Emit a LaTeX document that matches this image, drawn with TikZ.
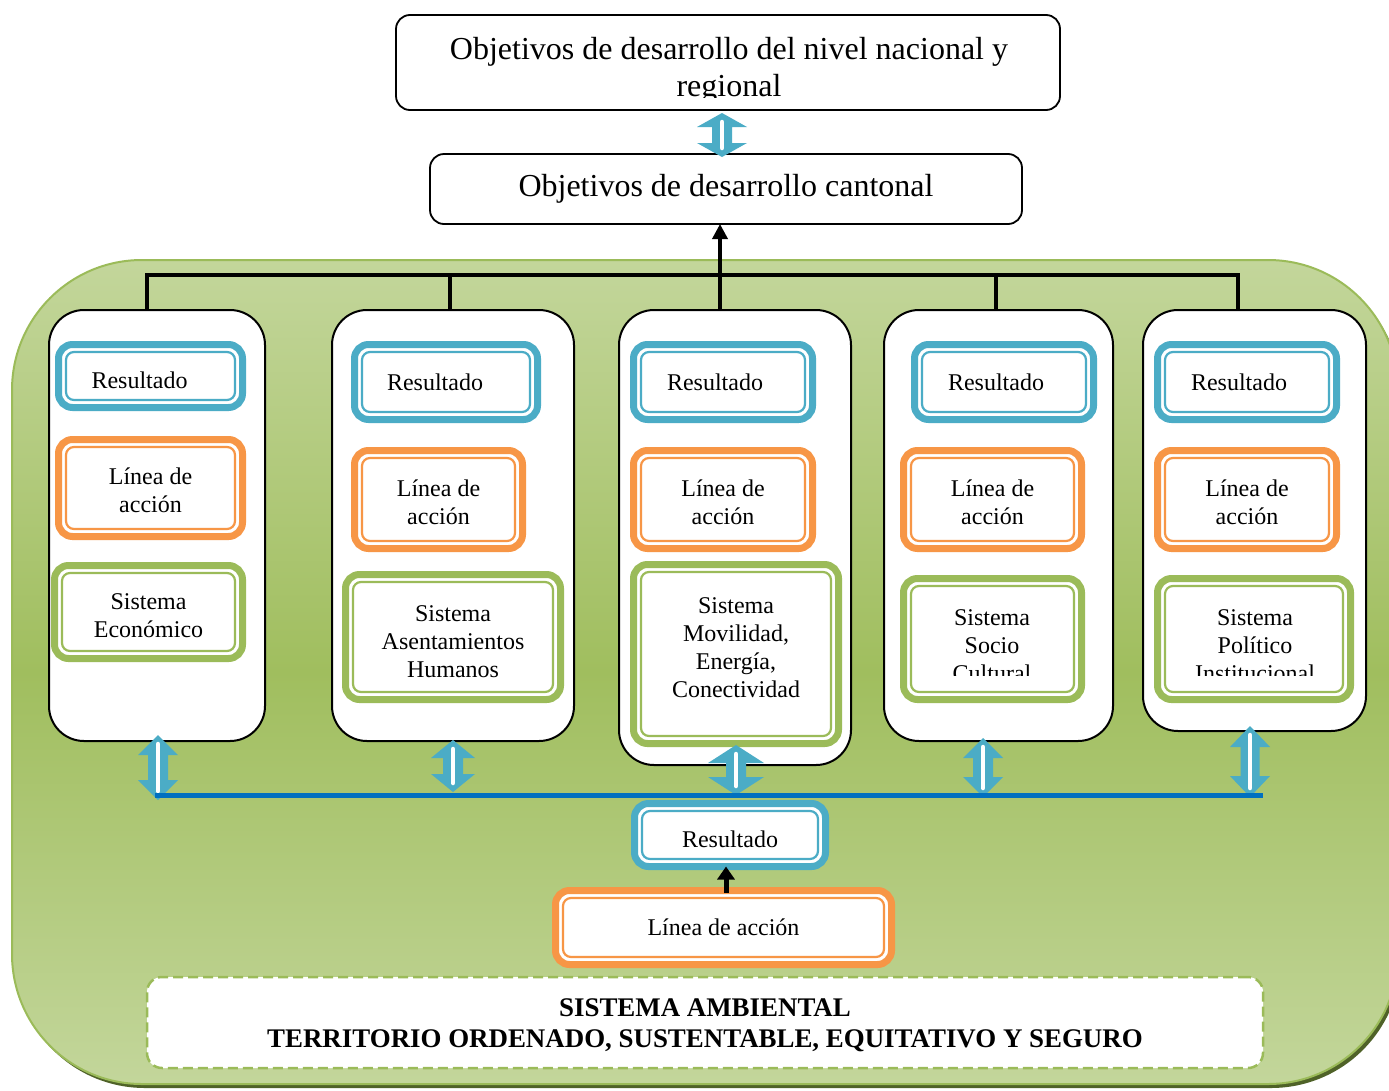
\documentclass[tikz,border=0pt]{standalone}
\usepackage{fontspec}
\setmainfont{Liberation Serif}
\usetikzlibrary{calc,arrows.meta}
\definecolor{cblue}{HTML}{4BACC6}
\definecolor{corange}{HTML}{F79646}
\definecolor{cgreen}{HTML}{9BBB59}
\definecolor{clight}{HTML}{C3D69B}
\definecolor{cmid}{HTML}{A0BE5E}
\definecolor{cdark}{HTML}{4F6228}
\definecolor{cline}{HTML}{0070C0}
\tikzset{
  panel/.style={draw=black, line width=2, fill=white, rounded corners=35, outer sep=0, inner sep=0},
  dboxs/.style={draw=#1, line width=7, fill=white, rounded corners=14, outer sep=0, inner sep=0},
  btext/.style={font=\fontsize{24}{28}\selectfont, align=center, inner sep=0},
  topbox/.style={draw=black, line width=1.8, rounded corners=14, fill=white, outer sep=0, inner sep=0},
  bus/.style={line width=3.5, draw=black},
}
\newcommand\dbox[8]{%
  \node[dboxs=#6, minimum width={#4-#2-7}, minimum height={#5-#3-7}] (#1) at ({(#2+#4)/2},{(#3+#5)/2}) {};
  \draw[#6, line width=2.2, rounded corners=8] ($(#1.north west)+(7.5,7.5)$) rectangle ($(#1.south east)+(-7.5,-7.5)$);
  \node[btext, #7] (#1t) at (#1.center) {#8};
}
\newcommand\panelbox[5]{%
  \node[panel, minimum width={#4-#2}, minimum height={#5-#3}] (#1) at ({(#2+#4)/2},{(#3+#5)/2}) {};
}
\newcommand\udarr[6]{%
  \fill[cblue] (#1,#2) -- ({#1+#4},{#2+#6}) -- ({#1+#5},{#2+#6}) -- ({#1+#5},{#3-#6}) -- ({#1+#4},{#3-#6}) -- (#1,#3) -- ({#1-#4},{#3-#6}) -- ({#1-#5},{#3-#6}) -- ({#1-#5},{#2+#6}) -- ({#1-#4},{#2+#6}) -- cycle;
  \draw[white, line width=4.5, line cap=round] (#1,{#2+9}) -- (#1,{#3-9});
}
\begin{document}
\begin{tikzpicture}[x=1pt, y=-1pt]
\path[use as bounding box, clip] (0,0) rectangle (1389,1090);
\fill[white] (0,0) rectangle (1389,1090);

% background
\fill[cdark, rounded corners=130] (15,264) rectangle (1401,1088);
\shade[top color=clight, bottom color=clight, middle color=cmid, rounded corners=130] (12,260) rectangle (1398,1084);
\draw[cgreen, line width=2, rounded corners=130] (12,260) rectangle (1398,1084);

% top boxes
\node[topbox, minimum width=664, minimum height=95] (top) at (728,62.5) {};
\begin{scope}
  \clip (400,18) rectangle (1056,97);
  \node[font=\fontsize{32}{37}\selectfont, align=center, inner sep=0] (toptext) at (729,70) {Objetivos de desarrollo del nivel nacional y\\regional};
\end{scope}
\node[topbox, minimum width=592, minimum height=70, font=\fontsize{32}{37}\selectfont] (cant) at (726,189) {Objetivos de desarrollo cantonal};
\udarr{722}{113}{157}{25}{10}{14}

% panels
\panelbox{p1}{49}{310}{265}{741}
\panelbox{p2}{332}{310}{574}{741}
\panelbox{p3}{619}{310}{851}{765}
\panelbox{p4}{884}{310}{1113}{741}
\panelbox{p5}{1143}{310}{1366}{731}

% bus lines
\draw[bus] (147,0 |- p1.north) -- (147,275) -- (1238,275) -- (1238,0 |- p5.north);
\draw[bus] (450,275) -- (450,0 |- p2.north);
\draw[bus] (996,275) -- (996,0 |- p4.north);
\draw[bus, -{Triangle[length=15,width=15]}] (720,0 |- p3.north) -- (720,0 |- cant.south);

% panel contents
\dbox{r1}{55}{341}{246}{411}{cblue}{xshift=-11,yshift=-4}{Resultado}
\dbox{l1}{55}{436}{246}{540}{corange}{yshift=-2}{Línea de\\acción}
\dbox{s1}{51}{562}{246}{662}{cgreen}{yshift=-4}{Sistema\\Económico}

\dbox{r2}{351}{341}{541}{423}{cblue}{xshift=-11}{Resultado}
\dbox{l2}{351}{447}{526}{552}{corange}{yshift=-3}{Línea de\\acción}
\dbox{s2}{342}{571}{564}{703}{cgreen}{yshift=-5}{Sistema\\Asentamientos\\Humanos}

\dbox{r3}{630}{341}{816}{423}{cblue}{xshift=-8}{Resultado}
\dbox{l3}{630}{447}{816}{552}{corange}{yshift=-3}{Línea de\\acción}
\dbox{s3}{630}{561}{842}{747}{cgreen}{yshift=6}{Sistema\\Movilidad,\\Energía,\\Conectividad}

\dbox{r4}{911}{341}{1097}{423}{cblue}{xshift=-8}{Resultado}
\dbox{l4}{900}{447}{1085}{552}{corange}{yshift=-3}{Línea de\\acción}
\dbox{s4}{900}{575}{1085}{703}{cgreen}{}{}
\begin{scope}
  \clip (905,580) rectangle (1080,675);
  \node[btext] (s4t2) at (992,646) {Sistema\\Socio\\Cultural};
\end{scope}

\dbox{r5}{1154}{341}{1340}{423}{cblue}{xshift=-8}{Resultado}
\dbox{l5}{1154}{447}{1340}{552}{corange}{yshift=-3}{Línea de\\acción}
\dbox{s5}{1154}{575}{1354}{703}{cgreen}{}{}
\begin{scope}
  \clip (1160,580) rectangle (1348,675);
  \node[btext] (s5t2) at (1255,646) {Sistema\\Político\\Institucional};
\end{scope}

% double arrows to blue line
\udarr{158}{735}{800}{20}{10}{20}
\udarr{453}{740}{792}{22}{10}{18}
\udarr{736}{745}{795}{28}{10}{18}
\udarr{983}{738}{797}{20}{10}{20}
\udarr{1250}{726}{797}{20}{9.5}{21}
\coordinate (bl) at (155,795);
\coordinate (br) at (1263,795);
\draw[cline, line width=5] (bl) -- (br);

% bottom
\dbox{bres}{631}{800}{829}{870}{cblue}{yshift=-4}{Resultado}
\dbox{blin}{552}{887}{895}{968}{corange}{}{Línea de acción}
\draw[line width=5, -{Triangle[length=13,width=17]}] (726,893) -- (726,0 |- bres.south);

\node[draw=cgreen, dash pattern=on 10pt off 5pt, line width=2.5, fill=white, rounded corners=15,
      minimum width=1116, minimum height=91, inner sep=0] (amb) at (705,1022.5) {};
\node[align=center, inner sep=0, font=\fontsize{26.9}{31}\selectfont\bfseries] (ambt) at (705,1025.5)
      {SISTEMA AMBIENTAL\\TERRITORIO ORDENADO, SUSTENTABLE, EQUITATIVO Y SEGURO};
\end{tikzpicture}
\end{document}
